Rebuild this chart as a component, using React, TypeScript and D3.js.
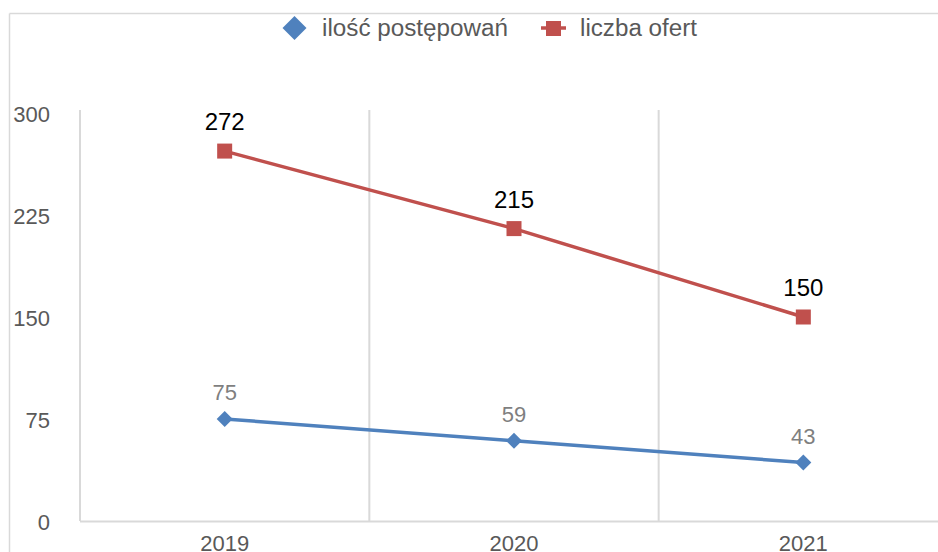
import React from "react";
import * as d3 from "d3";

const categories = ["2019", "2020", "2021"];
const postepowania = [75, 59, 43];
const oferty = [272, 215, 150];
const yTicks = [0, 75, 150, 225, 300];
const seriesNames = ["ilość postępowań", "liczba ofert"];

const W = 938;
const H = 552;
const BLUE = "#4F81BD";
const RED = "#C0504D";
const GRID = "#d9d9d9";
const FONT = "'Liberation Sans', Arial, Helvetica, sans-serif";

export default function App() {
  const x = d3.scaleBand<string>().domain(categories).range([80, 948]).paddingInner(0).paddingOuter(0);
  const y = d3.scaleLinear().domain([0, 300]).range([521, 113]);
  const cx = (c: string) => (x(c) as number) + x.bandwidth() / 2;
  const line = d3.line<number>().x((_, i) => cx(categories[i])).y((d) => y(d));

  const gridXs = categories.map((c) => x(c) as number).concat([(x(categories[2]) as number) + x.bandwidth()]);

  return (
    <svg width={W} height={H} style={{ position: "absolute", left: 0, top: 0, background: "#fff" }} fontFamily={FONT}>
      {/* chart border */}
      <line x1={9.5} y1={13.5} x2={W + 5} y2={13.5} stroke={GRID} strokeWidth={1.5} />
      <line x1={9.5} y1={13.5} x2={9.5} y2={H + 5} stroke={GRID} strokeWidth={1.5} />

      {/* vertical gridlines */}
      {gridXs.map((gx, i) => (
        <line key={i} x1={gx} x2={gx} y1={y(300) - 3} y2={y(0)} stroke={GRID} strokeWidth={2} />
      ))}
      {/* x axis */}
      <line x1={80} x2={W} y1={y(0) + 0.5} y2={y(0) + 0.5} stroke={GRID} strokeWidth={2} />

      {/* y tick labels */}
      {yTicks.map((t) => (
        <text key={t} x={50} y={y(t) + 9} textAnchor="end" fontSize={22} fill="#595959">
          {t}
        </text>
      ))}

      {/* x tick labels */}
      {categories.map((c) => (
        <text key={c} x={cx(c)} y={551} textAnchor="middle" fontSize={22} fill="#595959">
          {c}
        </text>
      ))}

      {/* lines */}
      <path d={line(oferty) || ""} fill="none" stroke={RED} strokeWidth={3.5} />
      <path d={line(postepowania) || ""} fill="none" stroke={BLUE} strokeWidth={3.5} />

      {/* markers */}
      {oferty.map((v, i) => (
        <rect key={i} x={cx(categories[i]) - 7.5} y={y(v) - 7.5} width={15} height={15} fill={RED} />
      ))}
      {postepowania.map((v, i) => (
        <path
          key={i}
          d={`M${cx(categories[i])},${y(v) - 8} l8,8 l-8,8 l-8,-8 Z`}
          fill={BLUE}
        />
      ))}

      {/* data labels */}
      {oferty.map((v, i) => (
        <text key={i} x={cx(categories[i])} y={y(v) - 21} textAnchor="middle" fontSize={24} fill="#000">
          {v}
        </text>
      ))}
      {postepowania.map((v, i) => (
        <text key={i} x={cx(categories[i])} y={y(v) - 19} textAnchor="middle" fontSize={22} fill="#7f7f7f">
          {v}
        </text>
      ))}

      {/* legend */}
      <g>
        <path d="M294.5,16 l12,12 l-12,12 l-12,-12 Z" fill={BLUE} />
        <text x={322} y={36} fontSize={23} fill="#595959" textLength={186} lengthAdjust="spacingAndGlyphs">
          {seriesNames[0]}
        </text>
        <line x1={541} x2={566} y1={28} y2={28} stroke={RED} strokeWidth={3.5} />
        <rect x={546} y={21} width={15} height={15} fill={RED} />
        <text x={580} y={36} fontSize={23} fill="#595959" textLength={117} lengthAdjust="spacingAndGlyphs">
          {seriesNames[1]}
        </text>
      </g>
    </svg>
  );
}
